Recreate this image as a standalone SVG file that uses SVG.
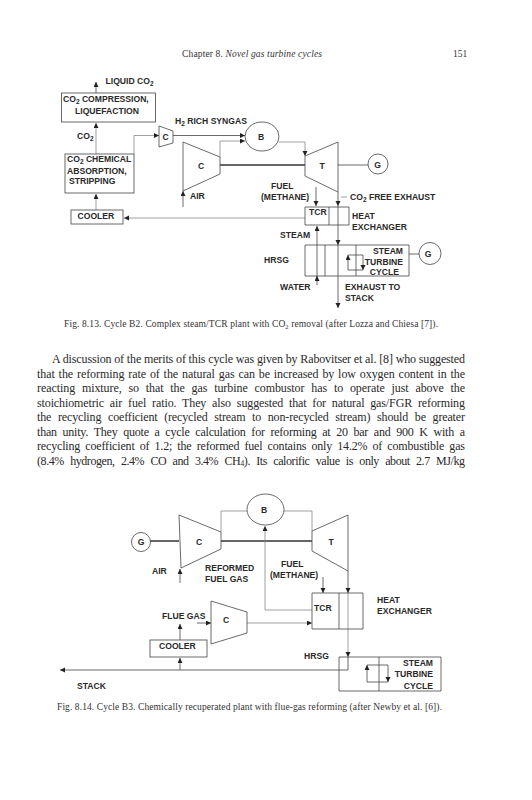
<svg xmlns="http://www.w3.org/2000/svg" width="532" height="800" viewBox="0 0 532 800">
<style>
.l{font-family:"Liberation Sans",Arial,sans-serif;font-weight:700;font-size:8.6px;fill:#2a2a2a}
.b{font-family:"Liberation Serif","Times New Roman",serif;font-size:12px;fill:#2a2a2a}
.c{font-family:"Liberation Serif","Times New Roman",serif;font-size:9.5px;fill:#333}
.s{fill:#fff;stroke:#444;stroke-width:.8}
.n{fill:none;stroke:#444;stroke-width:.8}
.f{fill:none;stroke:#888;stroke-width:.8}
.t{fill:none;stroke:#333;stroke-width:1.5}
.a{marker-end:url(#h)}
.sub{font-size:6.5px}
</style>
<defs>
<marker id="h" markerUnits="userSpaceOnUse" markerWidth="6" markerHeight="6" refX="5" refY="2.5" orient="auto"><path d="M0 0L5 2.5L0 5Z" fill="#222"/></marker>
</defs>
<rect width="532" height="800" fill="#fff"/>
<g id="page-text">
<text class="c" x="182" y="57" textLength="140">Chapter 8. <tspan font-style="italic">Novel gas turbine cycles</tspan></text>
<text class="c" x="453" y="57">151</text>
<text class="c" x="64" y="327" textLength="374">Fig. 8.13. Cycle B2. Complex steam/TCR plant with CO<tspan class="sub" dy="1.5">2</tspan><tspan dy="-1.5"> removal (after Lozza and Chiesa [7]).</tspan></text>
<text class="b" x="52" y="363" textLength="413">A discussion of the merits of this cycle was given by Rabovitser et al. [8] who suggested</text>
<text class="b" x="37" y="377.5" textLength="428" word-spacing=".9">that the reforming rate of the natural gas can be increased by low oxygen content in the</text>
<text class="b" x="37" y="392" textLength="428" word-spacing="3.9">reacting mixture, so that the gas turbine combustor has to operate just above the</text>
<text class="b" x="37" y="406.5" textLength="428" word-spacing="3">stoichiometric air fuel ratio. They also suggested that for natural gas/FGR reforming</text>
<text class="b" x="37" y="421" textLength="428" word-spacing="3.8">the recycling coefficient (recycled stream to non-recycled stream) should be greater</text>
<text class="b" x="37" y="435.5" textLength="428" word-spacing="2.9">than unity. They quote a cycle calculation for reforming at 20 bar and 900 K with a</text>
<text class="b" x="37" y="450" textLength="428" word-spacing="2.3">recycling coefficient of 1.2; the reformed fuel contains only 14.2% of combustible gas</text>
<text class="b" x="37" y="464.5" textLength="428" word-spacing="3.7">(8.4% hydrogen, 2.4% CO and 3.4% CH<tspan class="sub" dy="1.5" style="font-size:8px">4</tspan><tspan dy="-1.5">). Its calorific value is only about 2.7 MJ/kg</tspan></text>
<text class="c" x="57" y="710" textLength="385">Fig. 8.14. Cycle B3. Chemically recuperated plant with flue-gas reforming (after Newby et al. [6]).</text>
</g>
<g id="connectors-813">
<path class="n a" d="M96 93V82"/>
<path class="f a" d="M96 154V123"/>
<path class="f a" d="M96 210V194"/>
<path class="f a" d="M134 154V135.500H159"/>
<path class="n a" d="M173 135.500H245"/>
<path class="f a" d="M220 157V141H245"/>
<path class="n a" d="M183 207V191"/>
<path class="t" d="M220 165H305"/>
<path class="f a" d="M279 142H305V156"/>
<path class="n" d="M338 165H368"/>
<path class="n a" d="M338 192V206"/>
<path class="n a" d="M338 206V245"/>
<path class="n a" d="M338 245V308"/>
<path class="n a" d="M316 187V206"/>
<path class="f a" d="M305 218H124"/>
<path class="n a" d="M317 278V226"/>
<path class="n a" d="M317 285V276"/>
<path class="f" d="M341 197H347"/>
<path class="n" d="M409 254H419"/>
<path class="n a" d="M348 270V255"/>
<path class="n" d="M348 255H363"/>
<path class="n a" d="M363 255V270"/>
<path class="n" d="M348 270H363"/>
</g>
<g id="liquid-co2"><text class="l" x="105.500" y="84">LIQUID CO<tspan class="sub" dy="1.500">2</tspan></text></g>
<g id="compression"><rect class="s" x="61.500" y="93" width="94" height="29"/><text class="l" x="63" y="102">CO<tspan class="sub" dy="1.500">2</tspan><tspan dy="-1.500"> COMPRESSION,</tspan></text><text class="l" x="75" y="113.500">LIQUEFACTION</text></g>
<g id="co2-label"><text class="l" x="77" y="139">CO<tspan class="sub" dy="1.500">2</tspan></text></g>
<g id="absorption"><rect class="s" x="65" y="154" width="69" height="39"/><text class="l" x="67" y="162">CO<tspan class="sub" dy="1.500">2</tspan><tspan dy="-1.500"> CHEMICAL</tspan></text><text class="l" x="67" y="173.500">ABSORPTION,</text><text class="l" x="69" y="184">STRIPPING</text></g>
<g id="cooler-1"><rect class="s" x="71" y="210" width="52" height="14"/><text class="l" x="77.500" y="219">COOLER</text></g>
<g id="compressor-small-1"><path class="s" d="M159 126L173 131V143L159 147Z"/><text class="l" x="165.500" y="140" text-anchor="middle">C</text></g>
<g id="syngas-label"><text class="l" x="175" y="124">H<tspan class="sub" dy="1.500">2</tspan><tspan dy="-1.500"> RICH SYNGAS</tspan></text></g>
<g id="burner-1"><ellipse class="s" cx="262" cy="136.500" rx="17" ry="14.500"/><text class="l" x="261" y="139.500" text-anchor="middle">B</text></g>
<g id="compressor-1"><path class="s" d="M183 142L220 157V174L183 191Z"/><text class="l" x="201" y="169" text-anchor="middle">C</text></g>
<g id="air-1"><text class="l" x="190" y="199">AIR</text></g>
<g id="turbine-1"><path class="s" d="M305 156L338 142V192L305 176Z"/><text class="l" x="322" y="169" text-anchor="middle">T</text></g>
<g id="generator-1"><circle class="s" cx="378" cy="164" r="10"/><text class="l" x="377.500" y="168" text-anchor="middle">G</text></g>
<g id="fuel-1"><text class="l" x="271" y="189">FUEL</text><text class="l" x="261" y="200">(METHANE)</text></g>
<g id="exhaust-label"><text class="l" x="350" y="200">CO<tspan class="sub" dy="1.500">2</tspan><tspan dy="-1.500"> FREE EXHAUST</tspan></text></g>
<g id="tcr-1"><path class="n" d="M305 207H349V225H305ZM329 207V225"/><text class="l" x="309" y="215">TCR</text></g>
<g id="hx-label-1"><text class="l" x="352" y="219">HEAT</text><text class="l" x="352" y="230">EXCHANGER</text></g>
<g id="steam-label-1"><text class="l" x="280" y="238">STEAM</text></g>
<g id="hrsg-1"><path class="n" d="M305 245H409V276H305ZM325 245V276M356 245V276"/><text class="l" x="264" y="263">HRSG</text></g>
<g id="steam-cycle-1"><text class="l" x="403" y="254" text-anchor="end">STEAM</text><text class="l" x="403" y="264.500" text-anchor="end">TURBINE</text><text class="l" x="399" y="275" text-anchor="end">CYCLE</text></g>
<g id="generator-2"><circle class="s" cx="430" cy="253.500" r="11"/><text class="l" x="428" y="257" text-anchor="middle">G</text></g>
<g id="water-label"><text class="l" x="280" y="290">WATER</text></g>
<g id="stack-label-1"><text class="l" x="345" y="290">EXHAUST TO</text><text class="l" x="345" y="301">STACK</text></g>

<g id="connectors-814">
<path class="t" d="M150 541H179"/>
<path class="t" d="M221 541H312"/>
<path class="n a" d="M180 583V569"/>
<path class="f" d="M221 532V511H247"/>
<path class="f" d="M284 511H312V531"/>
<path class="f a" d="M265 610V526"/>
<path class="f" d="M265 610H312"/>
<path class="n a" d="M323 577V593"/>
<path class="n a" d="M348 571V593"/>
<path class="f a" d="M348 593V657"/>
<path class="n a" d="M348 657V670H60"/>
<path class="f a" d="M247 623H312"/>
<path class="n a" d="M197 623H211"/>
<path class="n a" d="M180 640V624"/>
<path class="n a" d="M180 670V658"/>
<path class="n a" d="M367 682V665"/>
<path class="n" d="M367 665H388"/>
<path class="n a" d="M388 665V682"/>
<path class="n" d="M367 682H388"/>
</g>
<g id="generator-3"><circle class="s" cx="141" cy="542" r="9.500"/><text class="l" x="141" y="545" text-anchor="middle">G</text></g>
<g id="compressor-2"><path class="s" d="M179 515L221 532V549L181 568Z"/><text class="l" x="199" y="545" text-anchor="middle">C</text></g>
<g id="air-2"><text class="l" x="152" y="574">AIR</text></g>
<g id="burner-2"><ellipse class="s" cx="265.500" cy="509.500" rx="18.500" ry="15.500"/><text class="l" x="264" y="513" text-anchor="middle">B</text></g>
<g id="turbine-2"><path class="s" d="M312 531L348 515V571L312 551Z"/><text class="l" x="331" y="545" text-anchor="middle">T</text></g>
<g id="reformed-label"><text class="l" x="205" y="571">REFORMED</text><text class="l" x="205" y="582">FUEL GAS</text></g>
<g id="fuel-2"><text class="l" x="281" y="567">FUEL</text><text class="l" x="270" y="578">(METHANE)</text></g>
<g id="tcr-2"><path class="n" d="M312 593H363V629H312ZM339 593V629"/><text class="l" x="314" y="611">TCR</text></g>
<g id="hx-label-2"><text class="l" x="377" y="603">HEAT</text><text class="l" x="377" y="614">EXCHANGER</text></g>
<g id="flue-label"><text class="l" x="162" y="619">FLUE GAS</text></g>
<g id="compressor-small-2"><path class="s" d="M211 601L247 612V633L211 644Z"/><text class="l" x="226" y="623" text-anchor="middle">C</text></g>
<g id="cooler-2"><rect class="s" x="150" y="640" width="57" height="17"/><text class="l" x="159" y="649">COOLER</text></g>
<g id="hrsg-2"><path class="n" d="M339 657H441V691H339ZM379 657V691"/><text class="l" x="304" y="659">HRSG</text></g>
<g id="steam-cycle-2"><text class="l" x="433" y="666" text-anchor="end">STEAM</text><text class="l" x="433" y="677" text-anchor="end">TURBINE</text><text class="l" x="433" y="689" text-anchor="end">CYCLE</text></g>
<g id="stack-label-2"><text class="l" x="77" y="689">STACK</text></g>
</svg>
